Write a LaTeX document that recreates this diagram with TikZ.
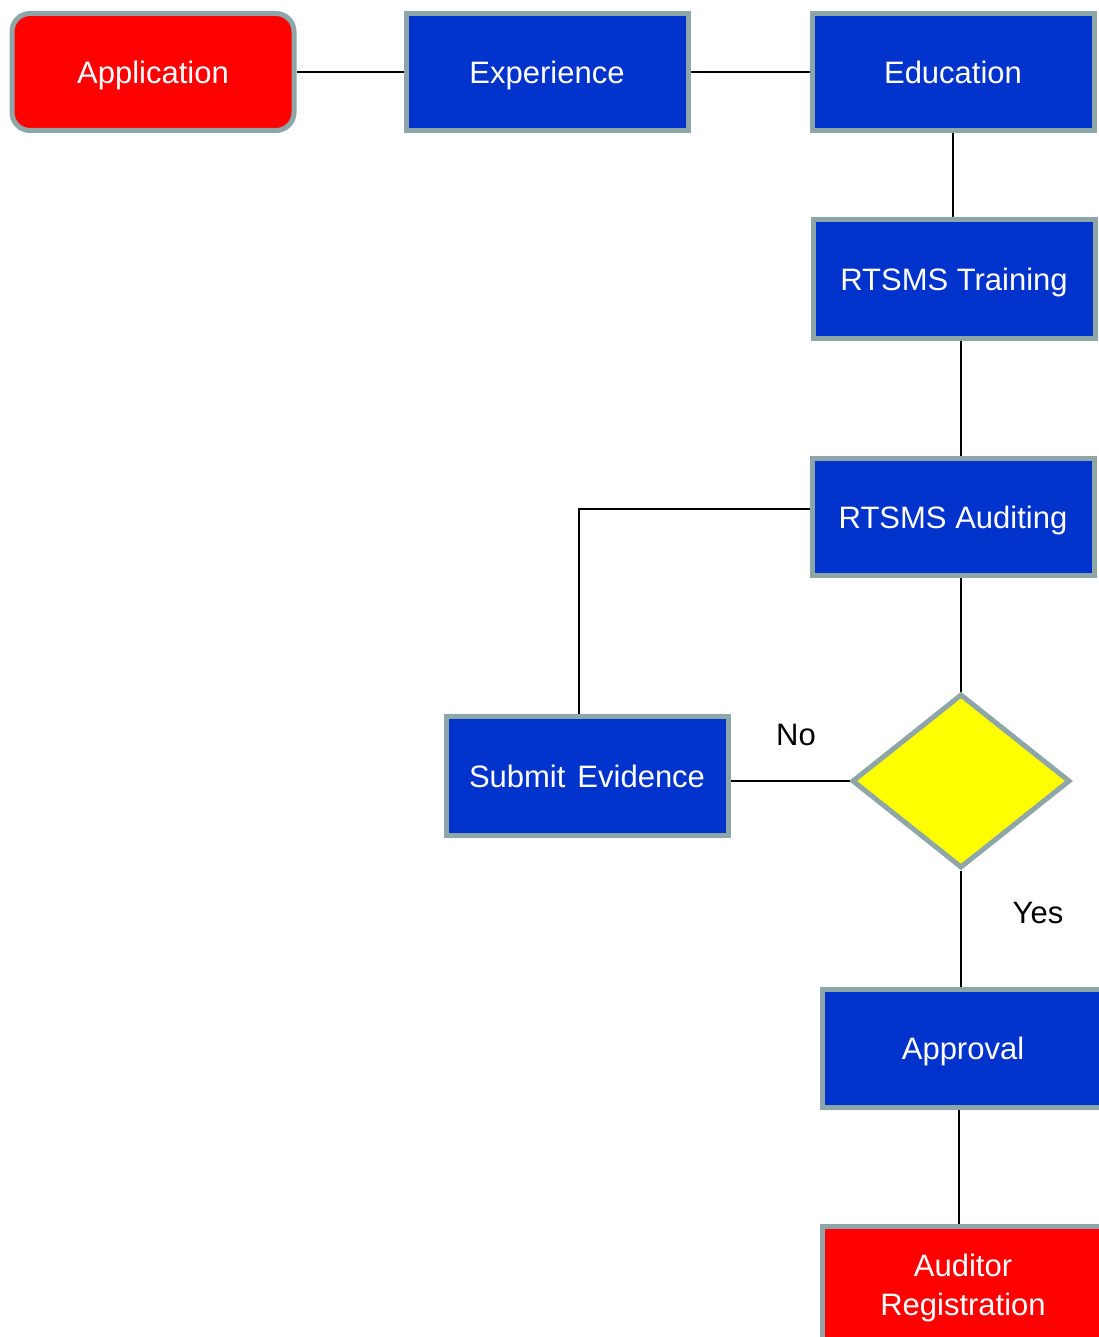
\documentclass[tikz,border=0pt]{standalone}
\usepackage{fontspec}
\setmainfont{Liberation Sans}
\usepackage{tikz}
\usetikzlibrary{shapes.geometric}
\definecolor{boxblue}{RGB}{0,51,204}
\definecolor{boxred}{RGB}{255,0,0}
\definecolor{boxyellow}{RGB}{255,255,0}
\definecolor{edgegray}{RGB}{143,166,168}

\begin{document}
\begin{tikzpicture}[x=1pt, y=-1pt,
    step box/.style={rectangle, draw=edgegray, line width=5pt, fill=boxblue,
    text=white, minimum width=282pt, minimum height=117pt, inner sep=0pt,
    font=\fontsize{31}{39}\selectfont, align=center},
    one line/.style={text height=22.5pt, text depth=0pt},
    end box/.style={step box, fill=boxred},
    choice/.style={diamond, draw=edgegray, line width=5pt, fill=boxyellow,
    minimum width=218pt, minimum height=174pt, inner sep=0pt},
    link/.style={line width=2.7pt},
    tag/.style={font=\fontsize{31}{39}\selectfont}]
    \useasboundingbox (0,0) rectangle (1099,1337);
    \clip (0,0) rectangle (1099,1337);
    \node[end box,one line,rounded corners=18pt] (App) at (153,72) {Application};
    \node[step box,one line] (Exp) at (547,72) {Experience};
    \node[step box,one line] (Edu) at (953,72) {Education};
    \node[step box,one line,minimum height=119pt] (Trn) at (954,279) {RTSMS Training};
    \node[step box,one line] (Aud) at (953,517) {RTSMS Auditing};
    \node[choice] (Dec) at (961,781) {};
    \node[step box,one line,minimum height=119pt] (Sub) at (587,776) {Submit\hspace{12pt}Evidence};
    \node[step box,one line,minimum height=118pt] (Appr) at (963,1048) {Approval};
    \node[end box,minimum height=124pt] (Reg) at (963,1288) {Auditor\\Registration};
    \node[tag] (No) at (796,735) {No};
    \node[tag] (Yes) at (1038,913) {Yes};
    \draw[link] (App) -- (Exp);
    \draw[link] (Exp) -- (Edu);
    \draw[link] (Edu.south) -- (Edu.south |- Trn.north);
    \draw[link] ([xshift=7pt]Trn.south) -- ([xshift=7pt]Trn.south |- Aud.north);
    \draw[link] (Dec.north |- Aud.south) -- (Dec.north);
    \draw[link] ([yshift=8pt]Aud.west) -| ([xshift=-8pt]Sub.north);
    \draw[link] (Dec.west) -- (Dec.west -| Sub.east);
    \draw[link] (Dec.south) -- (Dec.south |- Appr.north);
    \draw[link] ([xshift=-4pt]Appr.south) -- ([xshift=-4pt]Reg.north);
\end{tikzpicture}
\end{document}
